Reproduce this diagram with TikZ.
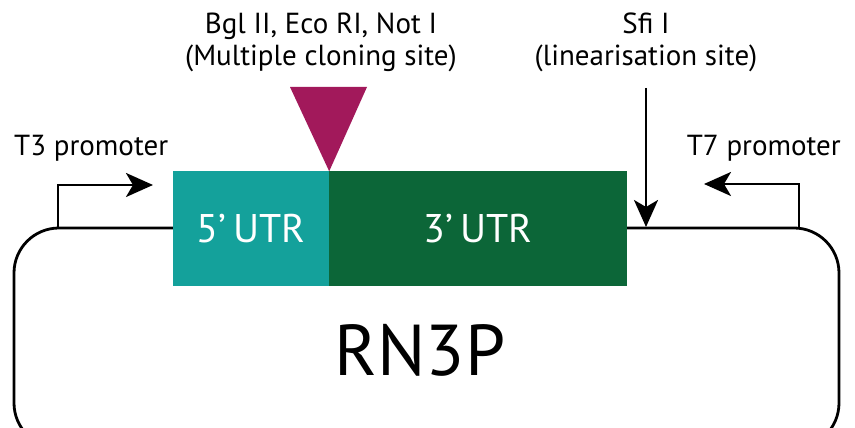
\documentclass[tikz,border=0pt]{standalone}
\usepackage{fontspec}
\setmainfont{PT Sans}
\usepackage{tikz}
\usetikzlibrary{arrows.meta, positioning, calc}
\definecolor{utrfive}{HTML}{14A19B}
\definecolor{utrthree}{HTML}{0C6638}
\definecolor{mcs}{HTML}{A2195B}

\begin{document}
\begin{tikzpicture}[x=1pt, y=1pt,
    backbone/.style={line width=2.8pt, rounded corners=45pt},
    utr/.style={rectangle, inner sep=0pt, minimum height=115pt, text=white, font=\fontsize{40}{44}\selectfont},
    label/.style={font=\fontsize{29}{32}\selectfont, align=center, inner sep=0pt},
    tss/.style={line width=2.8pt, -{Stealth[length=27pt, width=24pt, inset=7pt]}},
]
    \useasboundingbox (0,0) rectangle (855,428);
    % Plasmid backbone
    \draw[backbone] (14,-20) rectangle (839,200);
    % UTR blocks
    \node[utr, fill=utrfive, minimum width=156pt] (five) at (251,199) {5'\,UTR};
    \node[utr, fill=utrthree, minimum width=298pt] (three) at (478,199) {3'\,UTR};
    % Cloning site marker
    \fill[mcs] (290,341) -- (367,341) -- (five.north east) -- cycle;
    \node[label] (mcstext) at (321,386) {Bgl II, Eco RI, Not I\\(Multiple cloning site)};
    % Linearisation site
    \node[label] (sfitext) at (646,386) {Sfi I\\(linearisation site)};
    \coordinate (sfitop) at (646,340);
    \coordinate (sfibot) at (646,201);
    \draw[tss] (sfitop) -- (sfibot);
    % Promoters
    \coordinate (t3base) at (58,200);
    \coordinate (t3tip) at (153,243);
    \draw[tss] (t3base) |- (t3tip);
    \node[label, anchor=west] (t3) at (14,280) {T3 promoter};
    \coordinate (t7base) at (799,200);
    \coordinate (t7tip) at (704,244);
    \draw[tss] (t7base) |- (t7tip);
    \node[label, anchor=east] (t7) at (841,280) {T7 promoter};
    % Plasmid name
    \node[font=\fontsize{72}{74}\selectfont, inner sep=0pt] (name) at (420,78) {RN3P};
\end{tikzpicture}
\end{document}
